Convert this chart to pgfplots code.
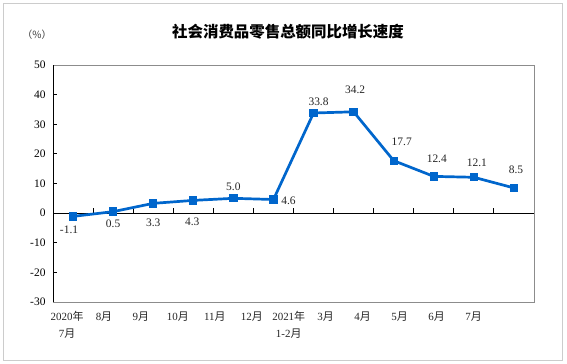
\documentclass[border=0pt]{standalone}
\usepackage{fontspec}
\setmainfont{Liberation Serif}
\newfontfamily\cjk{Noto Sans CJK SC}
\usepackage{pgfplots}
\pgfplotsset{compat=1.18}
\definecolor{lineblue}{RGB}{0,102,204}
\tikzset{lab/.style={font=\fontsize{11.5}{13}\selectfont, text=black!85}}
\begin{document}
\begin{tikzpicture}[x=1bp,y=1bp]
\path[fill=white] (0,0) rectangle (567,363);
\draw[black!20, line width=0.8bp] (3,3) rectangle (562,360);
\node[font=\cjk\bfseries\fontsize{15.5}{18}\selectfont] at (288,331) {社会消费品零售总额同比增长速度};
\node[font=\cjk\fontsize{10}{12}\selectfont, text=black!75] at (37,328) {（\%）};
\begin{axis}[
  at={(53bp,61bp)}, anchor=south west,
  scale only axis, width=481bp, height=237bp,
  xmin=-0.5, xmax=11.5, ymin=-30, ymax=50,
  ytick={-30,-20,...,50},
  axis line style={draw=black!45, line width=0.8bp},
  ytick pos=left, tick align=inside, major tick length=4bp,
  ytick style={black, line width=0.8bp},
  xtick={-0.15,0.772,1.694,2.616,3.538,4.460,5.381,6.303,7.225,8.147,9.069,9.991},
  xticklabels={{2020{\cjk 年}\\7{\cjk 月}},8{\cjk 月},9{\cjk 月},10{\cjk 月},11{\cjk 月},12{\cjk 月},{2021{\cjk 年}\\1-2{\cjk 月}},3{\cjk 月},4{\cjk 月},5{\cjk 月},6{\cjk 月},7{\cjk 月}},
  xtick style={draw=none},
  x tick label style={font=\fontsize{11}{16.5}\selectfont, align=center, anchor=north, text=black!85, yshift=-6bp},
  y tick label style={font=\fontsize{11.5}{13}\selectfont, xshift=-4bp},
  /pgf/number format/assume math mode=true,
  clip=false,
]
\draw[black, line width=0.8bp] (axis cs:-0.5,0) -- (axis cs:11.5,0);
\draw[black, line width=0.9bp]
  (axis cs:0.5,0) -- (axis cs:0.5,1.6)
  (axis cs:1.5,0) -- (axis cs:1.5,1.6)
  (axis cs:2.5,0) -- (axis cs:2.5,1.6)
  (axis cs:3.5,0) -- (axis cs:3.5,1.6)
  (axis cs:4.5,0) -- (axis cs:4.5,1.6)
  (axis cs:5.5,0) -- (axis cs:5.5,1.6)
  (axis cs:6.5,0) -- (axis cs:6.5,1.6)
  (axis cs:7.5,0) -- (axis cs:7.5,1.6)
  (axis cs:8.5,0) -- (axis cs:8.5,1.6)
  (axis cs:9.5,0) -- (axis cs:9.5,1.6)
  (axis cs:10.5,0) -- (axis cs:10.5,1.6);
\draw[black, line width=0.8bp] (axis cs:-0.5,-30) -- (axis cs:-0.5,50);
\addplot[lineblue, line width=2.7bp, mark=square*, mark size=2.8bp, mark options={solid}]
  coordinates {(0,-1.1)(1,0.5)(2,3.3)(3,4.3)(4,5.0)(5,4.6)(6,33.8)(7,34.2)(8,17.7)(9,12.4)(10,12.1)(11,8.5)};
\node[lab, xshift=-4bp, yshift=-13.6bp] at (axis cs:0,-1.1) {-1.1};
\node[lab, xshift=0bp, yshift=-12.4bp] at (axis cs:1,0.5) {0.5};
\node[lab, xshift=0bp, yshift=-19.7bp] at (axis cs:2,3.3) {3.3};
\node[lab, xshift=-1bp, yshift=-21.6bp] at (axis cs:3,4.3) {4.3};
\node[lab, xshift=0bp, yshift=11.3bp] at (axis cs:4,5.0) {5.0};
\node[lab, xshift=15bp, yshift=-1.5bp] at (axis cs:5,4.6) {4.6};
\node[lab, xshift=5bp, yshift=11bp] at (axis cs:6,33.8) {33.8};
\node[lab, xshift=1.5bp, yshift=21.8bp] at (axis cs:7,34.2) {34.2};
\node[lab, xshift=8bp, yshift=18.7bp] at (axis cs:8,17.7) {17.7};
\node[lab, xshift=3bp, yshift=17.4bp] at (axis cs:9,12.4) {12.4};
\node[lab, xshift=3bp, yshift=14.3bp] at (axis cs:10,12.1) {12.1};
\node[lab, xshift=2bp, yshift=17.9bp] at (axis cs:11,8.5) {8.5};
\end{axis}
\end{tikzpicture}
\end{document}
